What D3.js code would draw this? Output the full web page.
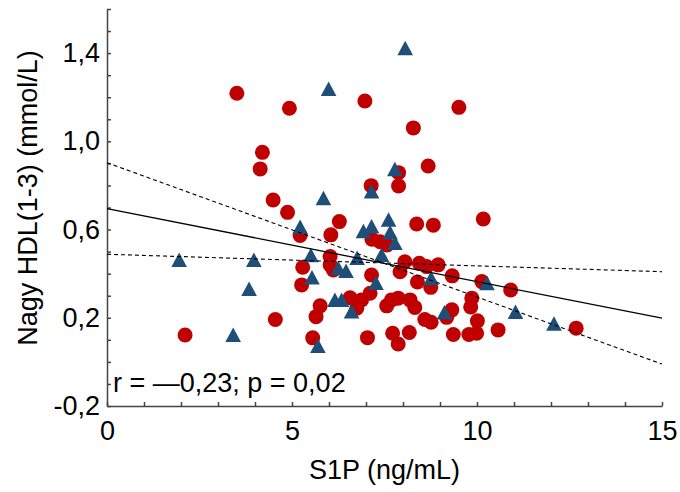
<!DOCTYPE html>
<html>
<head>
<meta charset="utf-8">
<script src="https://cdn.jsdelivr.net/npm/d3@7/dist/d3.min.js"></script>
<style>
  body { margin: 0; background: #fff; }
  text { font-family: "Liberation Sans", Arial, sans-serif; }
</style>
</head>
<body>
<div id="chart"></div>
<script>
// red circles: S1P (x) vs Nagy HDL (y)
const circleX = [2.11,3.51,4.93,6.97,9.51,8.28,4.20,4.14,8.68,7.14,7.88,7.88,4.49,4.88,6.28,5.22,6.05,7.16,7.38,7.57,
  8.37,8.82,10.17,8.05,8.44,8.64,8.95,7.92,8.39,8.75,9.33,10.13,10.91,9.86,9.83,12.68,7.56,7.69,7.87,8.19,
  8.32,9.32,9.18,8.59,8.76,10.01,10.57,7.72,8.17,7.87,9.36,9.78,9.99,6.03,6.03,6.12,5.29,5.26,7.15,5.76,
  5.65,6.57,6.88,7.11,6.75,5.56,7.04,4.55];
const circleY = [0.122,1.218,1.150,1.183,1.154,1.061,0.950,0.875,0.888,0.799,0.858,0.798,0.734,0.678,0.636,0.573,0.576,0.556,0.545,0.530,
  0.625,0.620,0.648,0.454,0.447,0.432,0.440,0.409,0.362,0.338,0.390,0.364,0.326,0.289,0.249,0.153,0.254,0.281,0.289,0.281,
  0.247,0.236,0.202,0.192,0.180,0.186,0.145,0.130,0.133,0.081,0.124,0.124,0.130,0.478,0.440,0.417,0.429,0.349,0.394,0.254,
  0.205,0.291,0.281,0.311,0.243,0.109,0.110,0.192];

// blue triangles
const triX = [1.95,3.97,3.84,3.41,8.06,5.99,7.78,5.85,7.15,5.22,6.93,7.15,7.61,7.65,7.78,5.51,6.76,7.42,6.25,6.46,
  5.54,7.27,6.16,6.34,6.61,5.70,8.76,10.27,9.12,11.04,12.08];
const triY = [0.462,0.462,0.331,0.122,1.422,1.237,0.873,0.742,0.772,0.612,0.592,0.614,0.644,0.587,0.539,0.483,0.471,0.485,0.425,0.412,
  0.383,0.358,0.281,0.281,0.228,0.072,0.379,0.357,0.224,0.226,0.173];

// regression line and the two dashed lines
const lineX = [0, 15];
const fitY = [0.695, 0.198];
const dashAY = [0.903, -0.010];
const dashBY = [0.488, 0.409];

const xTicks = [0, 5, 10, 15];
const yTicks = [-0.2, 0.2, 0.6, 1.0, 1.4];
const statText = "r = —0,23; p = 0,02";

const width = 680, height = 492;
const margin = {top: 9, right: 18, bottom: 86, left: 107};

const svg = d3.select("#chart").append("svg")
  .attr("width", width).attr("height", height);

const x = d3.scaleLinear().domain([0, 15]).range([margin.left, width - margin.right]);
const y = d3.scaleLinear().domain([-0.2, 1.6]).range([height - margin.bottom, margin.top]);

// "0,6" style labels, plain hyphen for negatives
const comma = v => d3.format(".1f")(v).replace(".", ",").replace("\u2212", "-");

// y axis, small inside ticks every 0.1
const yMinor = d3.range(0, 19).map(i => Math.round((-0.2 + i * 0.1) * 10) / 10);
svg.append("g")
  .attr("transform", `translate(${margin.left},0)`)
  .call(d3.axisLeft(y).tickValues(yMinor).tickSizeInner(-4).tickSizeOuter(0).tickPadding(7)
    .tickFormat(d => yTicks.some(t => Math.abs(t - d) < 1e-6) ? comma(d) : ""))
  .call(g => g.selectAll("text").attr("font-size", 27).attr("fill", "#000")
    .style("font-family", '"Liberation Sans", Arial, sans-serif'))
  .call(g => g.selectAll("line, path").attr("stroke", "#444").attr("stroke-width", 1.5));

// x axis, ticks every 1
svg.append("g")
  .attr("transform", `translate(0,${height - margin.bottom})`)
  .call(d3.axisBottom(x).tickValues(d3.range(0, 16)).tickSizeInner(-4).tickSizeOuter(0).tickPadding(15)
    .tickFormat(d => xTicks.includes(d) ? d : ""))
  .call(g => g.selectAll("text").attr("font-size", 27).attr("fill", "#000")
    .style("font-family", '"Liberation Sans", Arial, sans-serif'))
  .call(g => g.selectAll("line, path").attr("stroke", "#444").attr("stroke-width", 1.5));

// points
const circles = circleX.map((v, i) => ({x: v, y: circleY[i]}));
const tris = triX.map((v, i) => ({x: v, y: triY[i]}));

svg.append("g").selectAll("circle")
  .data(circles).join("circle")
    .attr("cx", d => x(d.x)).attr("cy", d => y(d.y))
    .attr("r", 7.5).attr("fill", "#C00000");

svg.append("g").selectAll("path")
  .data(tris).join("path")
    .attr("transform", d => `translate(${x(d.x)},${y(d.y)})`)
    .attr("d", "M0,-7.5L7.8,7L-7.8,7Z")
    .attr("fill", "#1F4E79");

// lines
const lineGen = ys => d3.line().x((d, i) => x(lineX[i])).y(d => y(d))(ys);
svg.append("path").attr("d", lineGen(fitY))
  .attr("fill", "none").attr("stroke", "#000").attr("stroke-width", 1.3);
[dashAY, dashBY].forEach(ys => {
  svg.append("path").attr("d", lineGen(ys))
    .attr("fill", "none").attr("stroke", "#000").attr("stroke-width", 1.1)
    .attr("stroke-dasharray", "4,3");
});

// stats label
svg.append("text")
  .attr("x", margin.left + 6).attr("y", 392)
  .attr("font-size", 27).attr("fill", "#000")
  .text(statText);

// axis titles
svg.append("text")
  .attr("x", (margin.left + width - margin.right) / 2).attr("y", 479)
  .attr("text-anchor", "middle").attr("font-size", 27)
  .text("S1P (ng/mL)");

svg.append("text")
  .attr("transform", "translate(37,198) rotate(-90)")
  .attr("text-anchor", "middle").attr("font-size", 27)
  .text("Nagy HDL(1-3) (mmol/L)");
</script>
</body>
</html>
